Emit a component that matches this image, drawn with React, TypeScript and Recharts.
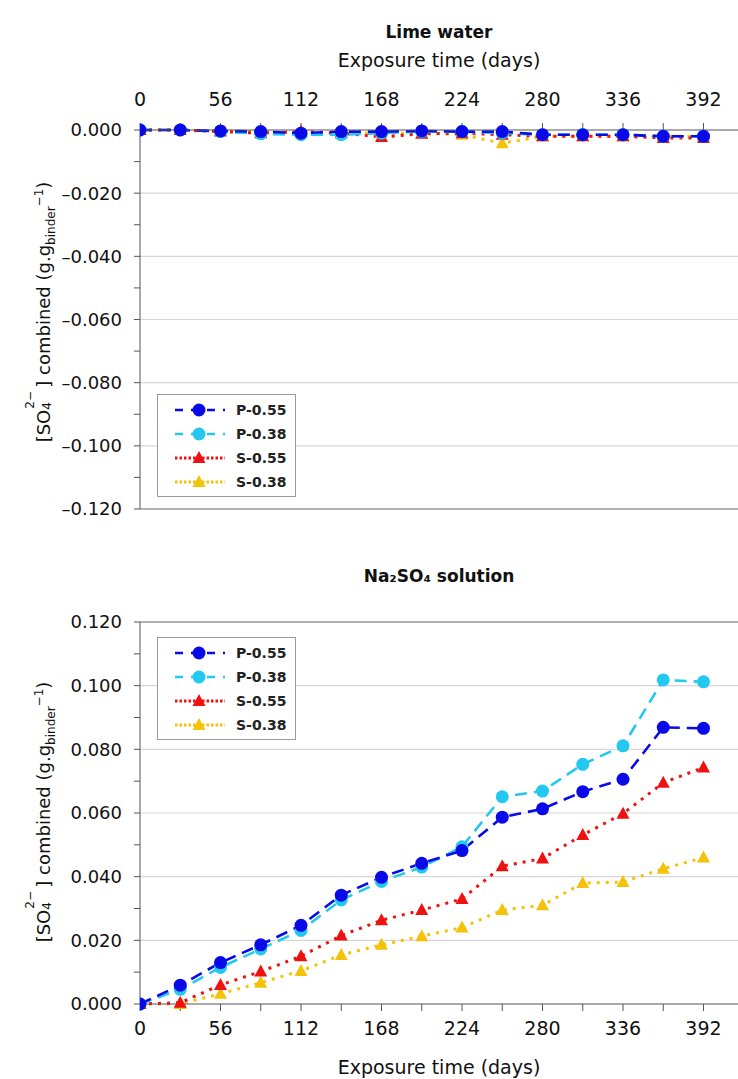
import { LineChart, Line, XAxis, YAxis, ReferenceLine } from 'recharts';

const days = [0, 28, 56, 84, 112, 140, 168, 196, 224, 252, 280, 308, 336, 364, 392];
const dayTicks = [0, 28, 56, 84, 112, 140, 168, 196, 224, 252, 280, 308, 336, 364, 392];

// lime water
const limeP055 = [0, 0, -0.0003, -0.0005, -0.001, -0.0005, -0.0005, -0.0003, -0.0005, -0.0005, -0.0015, -0.0015, -0.0015, -0.002, -0.002];
const limeP038 = [0, 0, -0.0005, -0.0012, -0.0015, -0.0015, -0.001, -0.0005, -0.0005, -0.001, -0.0015, -0.0015, -0.0015, -0.002, -0.002];
const limeS055 = [0, 0, -0.0005, -0.001, -0.0005, -0.001, -0.0022, -0.0012, -0.001, -0.0015, -0.002, -0.002, -0.002, -0.0025, -0.0025];
const limeS038 = [0, 0, -0.0003, -0.0005, -0.001, -0.001, -0.001, -0.001, -0.0015, -0.0042, -0.002, -0.002, -0.002, -0.002, -0.002];

// Na2SO4 solution
const naP055 = [0, 0.0059, 0.013, 0.0186, 0.0247, 0.0342, 0.0398, 0.0442, 0.0482, 0.0587, 0.0613, 0.0667, 0.0706, 0.0869, 0.0866];
const naP038 = [0, 0.0046, 0.0115, 0.0173, 0.0231, 0.0327, 0.0385, 0.043, 0.0494, 0.0651, 0.0669, 0.0753, 0.0811, 0.1018, 0.1012];
const naS055 = [0, 0.0004, 0.006, 0.0102, 0.015, 0.0215, 0.0263, 0.0295, 0.033, 0.0433, 0.0457, 0.0531, 0.0598, 0.0695, 0.0743];
const naS038 = [0, 0, 0.0032, 0.0067, 0.0104, 0.0154, 0.0186, 0.0213, 0.024, 0.0295, 0.031, 0.038, 0.0383, 0.0425, 0.046];

const limeTicks = [-0.12, -0.11, -0.1, -0.09, -0.08, -0.07, -0.06, -0.05, -0.04, -0.03, -0.02, -0.01, 0];
const naTicks = [0, 0.01, 0.02, 0.03, 0.04, 0.05, 0.06, 0.07, 0.08, 0.09, 0.1, 0.11, 0.12];
const limeGrid = [-0.1, -0.08, -0.06, -0.04, -0.02];
const naGrid = [0.02, 0.04, 0.06, 0.08, 0.1];

const FONT = '"DejaVu Sans", sans-serif';

type Series = { key: string; name: string; color: string; dash: string; width: number; shape: 'circle' | 'triangle' };

const SERIES: Series[] = [
  { key: 'p055', name: 'P-0.55', color: '#0a0ae8', dash: '12 7', width: 2.6, shape: 'circle' },
  { key: 'p038', name: 'P-0.38', color: '#22c8f0', dash: '12 7', width: 2.6, shape: 'circle' },
  { key: 's055', name: 'S-0.55', color: '#ee1111', dash: '3 6', width: 3, shape: 'triangle' },
  { key: 's038', name: 'S-0.38', color: '#f5c20a', dash: '3 6', width: 3, shape: 'triangle' },
];

const limeData = days.map((d, i) => ({ day: d, p055: limeP055[i], p038: limeP038[i], s055: limeS055[i], s038: limeS038[i] }));
const naData = days.map((d, i) => ({ day: d, p055: naP055[i], p038: naP038[i], s055: naS055[i], s038: naS038[i] }));

const fmtY = (v: number) => {
  if (Math.round(v * 1000) % 20 !== 0) return '';
  if (Math.abs(v) < 1e-9) return '0.000';
  return (v < 0 ? '\u2013' : '') + Math.abs(v).toFixed(3);
};
const fmtX = (v: number) => (v % 56 === 0 ? String(v) : '');

function Marker({ cx, cy, s }: { cx: number; cy: number; s: Series }) {
  if (s.shape === 'circle') return <circle cx={cx} cy={cy} r={6.5} fill={s.color} stroke="none" />;
  return <path d={`M${cx},${cy - 7} L${cx + 6.5},${cy + 5} L${cx - 6.5},${cy + 5} Z`} fill={s.color} stroke="none" />;
}

function LegendBox({ top }: { top: number }) {
  return (
    <div
      style={{
        position: 'absolute',
        left: 157,
        top,
        width: 139,
        height: 103,
        border: '1px solid #9a9a9a',
        background: '#fff',
        padding: '3px 0',
        boxSizing: 'border-box',
      }}
    >
      {SERIES.map((s) => (
        <div key={s.key} style={{ display: 'flex', alignItems: 'center', height: 24 }}>
          <svg width={78} height={18} style={{ display: 'block' }}>
            <line x1={17} x2={67} y1={9} y2={9} stroke={s.color} strokeWidth={s.width} strokeDasharray={s.shape === 'circle' ? '8 8' : '2.5 2'} />
            <Marker cx={41} cy={9} s={s} />
          </svg>
          <span style={{ fontFamily: FONT, fontWeight: 'bold', fontSize: 14, color: '#222' }}>{s.name}</span>
        </div>
      ))}
    </div>
  );
}

function YLabel({ top }: { top: number }) {
  return (
    <div
      style={{
        position: 'absolute',
        left: 45,
        top,
        transform: 'translate(-50%, -50%) rotate(-90deg)',
        whiteSpace: 'nowrap',
        fontFamily: FONT,
        fontSize: 18,
        color: '#111',
      }}
    >
      [SO<span style={{ position: 'relative', display: 'inline-block', width: 22 }}>
        <span style={{ position: 'absolute', left: 0, top: 7, fontSize: 12 }}>4</span>
        <span style={{ position: 'absolute', left: 1, top: -10, fontSize: 12 }}>2−</span>&nbsp;
      </span>] combined (g.g<sub style={{ fontSize: 12 }}>binder</sub>
      <sup style={{ fontSize: 12 }}>−1</sup>)
    </div>
  );
}

function Panel({ data, ticks, grid, domain, top, height, margin, xTop, edge }: any) {
  const lines = [...SERIES].reverse();
  return (
    <div style={{ position: 'absolute', left: 0, top }}>
      <LineChart width={738} height={height} data={data} margin={margin}>
        {grid.map((g: number) => (
          <ReferenceLine key={g} y={g} stroke="#d6d6d6" strokeWidth={1.2} />
        ))}
        <ReferenceLine y={edge} stroke="#999" strokeWidth={1.6} />
        <XAxis
          dataKey="day"
          type="number"
          domain={[0, 416]}
          ticks={dayTicks}
          tickFormatter={fmtX}
          orientation={xTop ? 'top' : 'bottom'}
          height={xTop ? 130 : 75}
          interval={0}
          stroke="#555"
          tickSize={7}
          tickMargin={xTop ? 17 : 11}
          tick={{ fontSize: 19, fill: '#111', fontFamily: FONT }}
          allowDataOverflow
        />
        <YAxis
          type="number"
          domain={domain}
          ticks={ticks}
          tickFormatter={fmtY}
          interval={0}
          width={140}
          stroke="#555"
          tickSize={6}
          tickMargin={12}
          tick={{ fontSize: 18, fill: '#111', fontFamily: FONT }}
        />
        {lines.map((s) => (
          <Line
            key={s.key}
            dataKey={s.key}
            name={s.name}
            stroke={s.color}
            strokeWidth={s.width}
            strokeDasharray={s.dash}
            isAnimationActive={false}
            dot={(p: any) => <Marker key={`${s.key}-${p.index}`} cx={p.cx} cy={p.cy} s={s} />}
          />
        ))}
      </LineChart>
    </div>
  );
}

const titleStyle: React.CSSProperties = {
  position: 'absolute',
  left: 140,
  width: 598,
  textAlign: 'center',
  fontFamily: FONT,
  color: '#111',
};

export default function App() {
  return (
    <div style={{ position: 'absolute', left: 0, top: 0, width: 738, height: 1079, background: '#fff', overflow: 'hidden' }}>
      <div style={{ ...titleStyle, top: 22, fontSize: 17, fontWeight: 'bold' }}>Lime water</div>
      <div style={{ ...titleStyle, top: 49, fontSize: 19 }}>Exposure time (days)</div>
      <Panel data={limeData} ticks={limeTicks} grid={limeGrid} domain={[-0.12, 0]} top={0} height={530} margin={{ top: 0, right: 0, bottom: 21, left: 0 }} xTop edge={-0.12} />
      <LegendBox top={394} />
      <YLabel top={312} />

      <div style={{ ...titleStyle, top: 566, fontSize: 17, fontWeight: 'bold' }}>Na₂SO₄ solution</div>
      <Panel data={naData} ticks={naTicks} grid={naGrid} domain={[0, 0.12]} top={540} height={539} margin={{ top: 82, right: 0, bottom: 0, left: 0 }} xTop={false} edge={0.12} />
      <LegendBox top={637} />
      <YLabel top={812} />
      <div style={{ ...titleStyle, top: 1056, fontSize: 19 }}>Exposure time (days)</div>
    </div>
  );
}
